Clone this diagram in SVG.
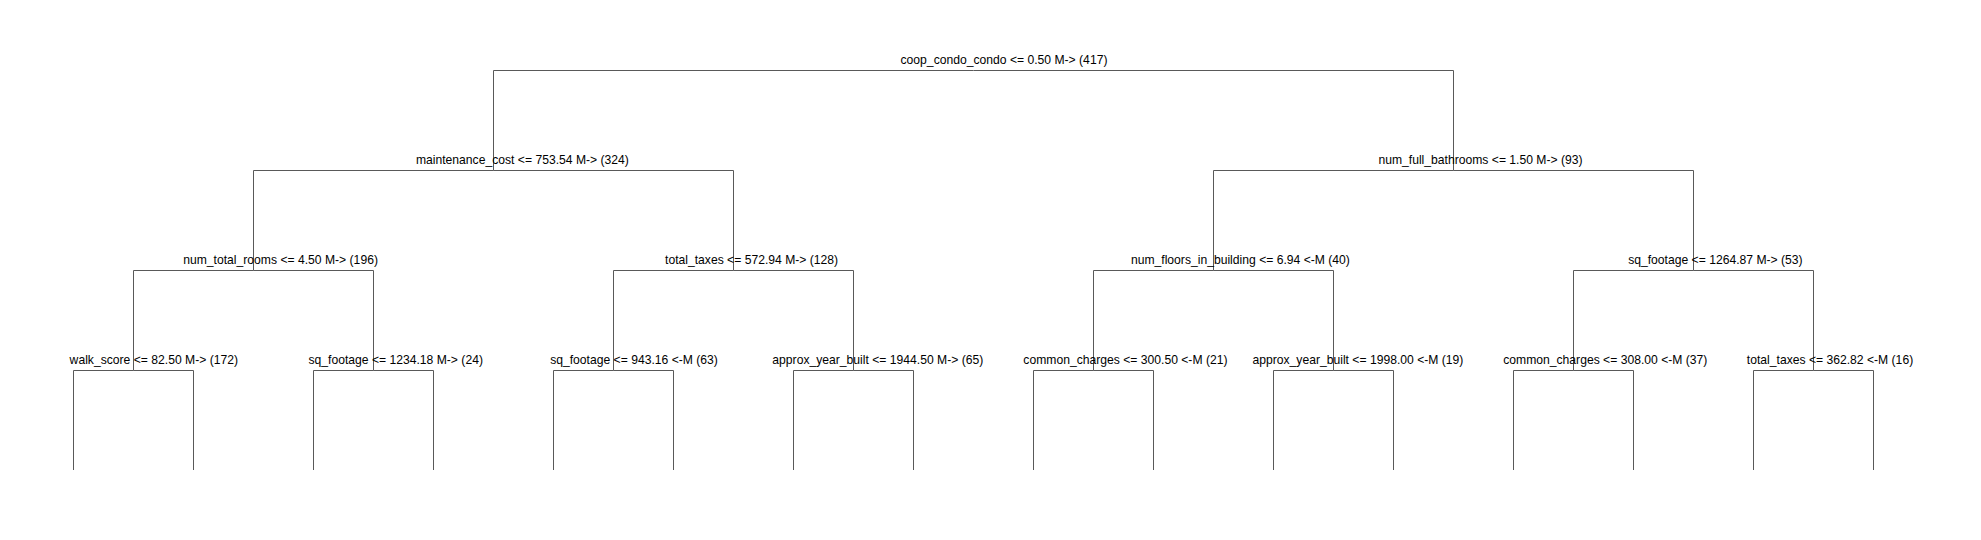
<svg xmlns="http://www.w3.org/2000/svg" width="1981" height="540" viewBox="0 0 1981 540">
<style>
.lbl{font-family:"Liberation Sans",Arial,sans-serif;font-size:12.15px;fill:#000;text-anchor:middle}
.edge{fill:none;stroke:#595959;stroke-width:1}
</style>
<rect x="0" y="0" width="1981" height="540" fill="#fff"/>
<g id="connectors">
<path class="edge" d="M973.5 70.5H493.5V170.5"/>
<path class="edge" d="M973.5 70.5H1453.5V170.5"/>
<path class="edge" d="M493.5 170.5H253.5V270.5"/>
<path class="edge" d="M493.5 170.5H733.5V270.5"/>
<path class="edge" d="M1453.5 170.5H1213.5V270.5"/>
<path class="edge" d="M1453.5 170.5H1693.5V270.5"/>
<path class="edge" d="M253.5 270.5H133.5V370.5"/>
<path class="edge" d="M253.5 270.5H373.5V370.5"/>
<path class="edge" d="M733.5 270.5H613.5V370.5"/>
<path class="edge" d="M733.5 270.5H853.5V370.5"/>
<path class="edge" d="M1213.5 270.5H1093.5V370.5"/>
<path class="edge" d="M1213.5 270.5H1333.5V370.5"/>
<path class="edge" d="M1693.5 270.5H1573.5V370.5"/>
<path class="edge" d="M1693.5 270.5H1813.5V370.5"/>
<path class="edge" d="M133.5 370.5H73.5V470"/>
<path class="edge" d="M133.5 370.5H193.5V470"/>
<path class="edge" d="M373.5 370.5H313.5V470"/>
<path class="edge" d="M373.5 370.5H433.5V470"/>
<path class="edge" d="M613.5 370.5H553.5V470"/>
<path class="edge" d="M613.5 370.5H673.5V470"/>
<path class="edge" d="M853.5 370.5H793.5V470"/>
<path class="edge" d="M853.5 370.5H913.5V470"/>
<path class="edge" d="M1093.5 370.5H1033.5V470"/>
<path class="edge" d="M1093.5 370.5H1153.5V470"/>
<path class="edge" d="M1333.5 370.5H1273.5V470"/>
<path class="edge" d="M1333.5 370.5H1393.5V470"/>
<path class="edge" d="M1573.5 370.5H1513.5V470"/>
<path class="edge" d="M1573.5 370.5H1633.5V470"/>
<path class="edge" d="M1813.5 370.5H1753.5V470"/>
<path class="edge" d="M1813.5 370.5H1873.5V470"/>
</g>
<g id="node-root"><text class="lbl" x="1004" y="64">coop_condo_condo &lt;= 0.50 M-&gt; (417)</text></g>
<g id="node-maintenance"><text class="lbl" x="522.4" y="164">maintenance_cost &lt;= 753.54 M-&gt; (324)</text></g>
<g id="node-bathrooms"><text class="lbl" x="1480.5" y="164">num_full_bathrooms &lt;= 1.50 M-&gt; (93)</text></g>
<g id="node-rooms"><text class="lbl" x="280.6" y="264">num_total_rooms &lt;= 4.50 M-&gt; (196)</text></g>
<g id="node-taxes1"><text class="lbl" x="751.6" y="264">total_taxes &lt;= 572.94 M-&gt; (128)</text></g>
<g id="node-floors"><text class="lbl" x="1240.4" y="264">num_floors_in_building &lt;= 6.94 &lt;-M (40)</text></g>
<g id="node-sqft3"><text class="lbl" x="1715.4" y="264">sq_footage &lt;= 1264.87 M-&gt; (53)</text></g>
<g id="node-walk"><text class="lbl" x="153.8" y="364">walk_score &lt;= 82.50 M-&gt; (172)</text></g>
<g id="node-sqft1"><text class="lbl" x="395.7" y="364">sq_footage &lt;= 1234.18 M-&gt; (24)</text></g>
<g id="node-sqft2"><text class="lbl" x="634" y="364">sq_footage &lt;= 943.16 &lt;-M (63)</text></g>
<g id="node-year1"><text class="lbl" x="877.8" y="364">approx_year_built &lt;= 1944.50 M-&gt; (65)</text></g>
<g id="node-common1"><text class="lbl" x="1125.4" y="364">common_charges &lt;= 300.50 &lt;-M (21)</text></g>
<g id="node-year2"><text class="lbl" x="1357.9" y="364">approx_year_built &lt;= 1998.00 &lt;-M (19)</text></g>
<g id="node-common2"><text class="lbl" x="1605.3" y="364">common_charges &lt;= 308.00 &lt;-M (37)</text></g>
<g id="node-taxes2"><text class="lbl" x="1830" y="364">total_taxes &lt;= 362.82 &lt;-M (16)</text></g>
</svg>
